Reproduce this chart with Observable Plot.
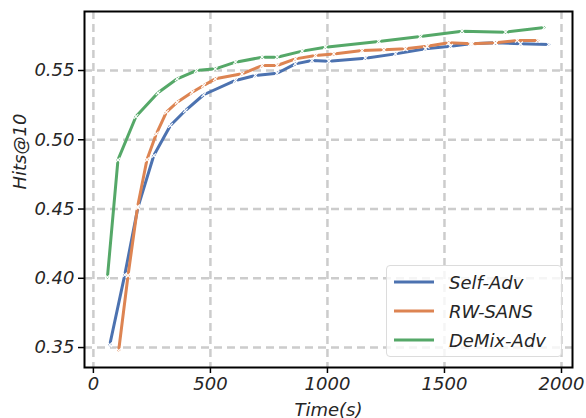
<!DOCTYPE html>
<html>
<head>
<meta charset="utf-8">
<script src="https://cdn.jsdelivr.net/npm/d3@7"></script>
<script src="https://cdn.jsdelivr.net/npm/@observablehq/plot@0.6"></script>
<style>
  body { margin: 0; background: #fff; }
  #wrap { position: relative; width: 586px; height: 418px; font-family: "DejaVu Sans", sans-serif; font-style: italic; }
  #legend { position: absolute; left: 386px; top: 265px; width: 174px; height: 90px; border: 1px solid #dcdcdc; border-radius: 4px; background: rgba(255,255,255,0.8); }
  .row { position: absolute; left: 0; height: 20px; display: flex; align-items: center; font-size: 18px; color: #262626; }
  .row svg { margin-left: 6px; margin-right: 14px; }
</style>
</head>
<body>
<div id="wrap"></div>
<script>
const seriesNames = ["Self-Adv", "RW-SANS", "DeMix-Adv"];
const seriesColors = ["#4c72b0", "#dd8452", "#55a868"];

const selfAdvTime = [70, 134, 190, 258, 329, 393, 471, 607, 692, 785, 863, 934, 1006, 1162, 1291, 1419, 1526, 1611, 1718, 1825, 1946];
const selfAdvHits = [0.352, 0.4025, 0.451, 0.4886, 0.5103, 0.5211, 0.5325, 0.5428, 0.5464, 0.548, 0.5548, 0.5572, 0.5567, 0.5589, 0.562, 0.5657, 0.5675, 0.5693, 0.5700, 0.5693, 0.5688];

const rwSansTime = [108, 148, 189, 229, 269, 312, 358, 422, 471, 521, 635, 721, 785, 863, 949, 1027, 1148, 1241, 1333, 1426, 1518, 1618, 1718, 1811, 1899];
const rwSansHits = [0.3478, 0.402, 0.4518, 0.4857, 0.5043, 0.5199, 0.5271, 0.5343, 0.5392, 0.544, 0.5476, 0.5536, 0.5536, 0.5584, 0.5608, 0.562, 0.5644, 0.5649, 0.5657, 0.5675, 0.570, 0.5693, 0.570, 0.5717, 0.5717];

const demixTime = [60, 105, 182, 276, 358, 440, 521, 607, 721, 785, 892, 991, 1219, 1397, 1575, 1761, 1927];
const demixHits = [0.4008, 0.4855, 0.5168, 0.5339, 0.544, 0.550, 0.5512, 0.556, 0.5596, 0.5596, 0.564, 0.5668, 0.571, 0.5745, 0.5784, 0.5777, 0.581];

const xTicks = [0, 500, 1000, 1500, 2000];
const xTickLabels = ["0", "500", "1000", "1500", "2000"];
const yTicks = [0.35, 0.40, 0.45, 0.50, 0.55];
const yTickLabels = ["0.35", "0.40", "0.45", "0.50", "0.55"];

const seriesTimes = [selfAdvTime, rwSansTime, demixTime];
const seriesHits = [selfAdvHits, rwSansHits, demixHits];
const data = [];
seriesNames.forEach((name, i) => {
  seriesTimes[i].forEach((t, j) => data.push({series: name, time: t, hits: seriesHits[i][j]}));
});

const chart = Plot.plot({
  width: 586,
  height: 418,
  marginLeft: 84,
  marginRight: 14,
  marginTop: 11,
  marginBottom: 51,
  style: {fontFamily: "DejaVu Sans, sans-serif", fontStyle: "italic", fontSize: "18px", color: "#262626", background: "white"},
  x: {domain: [-38, 2047]},
  y: {domain: [0.3356, 0.5926]},
  color: {domain: seriesNames, range: seriesColors},
  marks: [
    Plot.gridX(xTicks, {stroke: "#cccccc", strokeOpacity: 1, strokeWidth: 2.5, strokeDasharray: "8,5"}),
    Plot.gridY(yTicks, {stroke: "#cccccc", strokeOpacity: 1, strokeWidth: 2.5, strokeDasharray: "8,5"}),
    Plot.line(data, {x: "time", y: "hits", z: "series", stroke: "series", strokeWidth: 3}),
    Plot.dot(data, {x: "time", y: "hits", symbol: "times", r: 2.2, stroke: "white", strokeWidth: 1.1}),
    Plot.axisX({ticks: xTicks, tickFormat: d => xTickLabels[xTicks.indexOf(d)], tickSize: 6, tickPadding: 4, label: null, stroke: "black", strokeWidth: 1.5, fill: "#262626", fontSize: 18, fontStyle: "italic"}),
    Plot.axisY({ticks: yTicks, tickFormat: d => yTickLabels[yTicks.indexOf(d)], tickSize: 6, tickPadding: 4, label: null, stroke: "black", strokeWidth: 1.5, fill: "#262626", fontSize: 18, fontStyle: "italic"}),
    Plot.text(["Time(s)"], {frameAnchor: "bottom", dy: 48, fontSize: 18, fontStyle: "italic", fill: "#262626"}),
    Plot.text(["Hits@10"], {frameAnchor: "left", dx: -64, rotate: -90, fontSize: 18, fontStyle: "italic", fill: "#262626"}),
    Plot.frame({stroke: "black", strokeWidth: 2})
  ]
});

const wrap = document.getElementById("wrap");
wrap.appendChild(chart);

const legend = document.createElement("div");
legend.id = "legend";
const rowTops = [6, 35, 64];
seriesNames.forEach((name, i) => {
  const row = document.createElement("div");
  row.className = "row";
  row.style.top = rowTops[i] + "px";
  row.innerHTML = `<svg width="42" height="6"><line x1="1" y1="3" x2="41" y2="3" stroke="${seriesColors[i]}" stroke-width="3"/></svg><span>${name}</span>`;
  legend.appendChild(row);
});
wrap.appendChild(legend);
</script>
</body>
</html>
